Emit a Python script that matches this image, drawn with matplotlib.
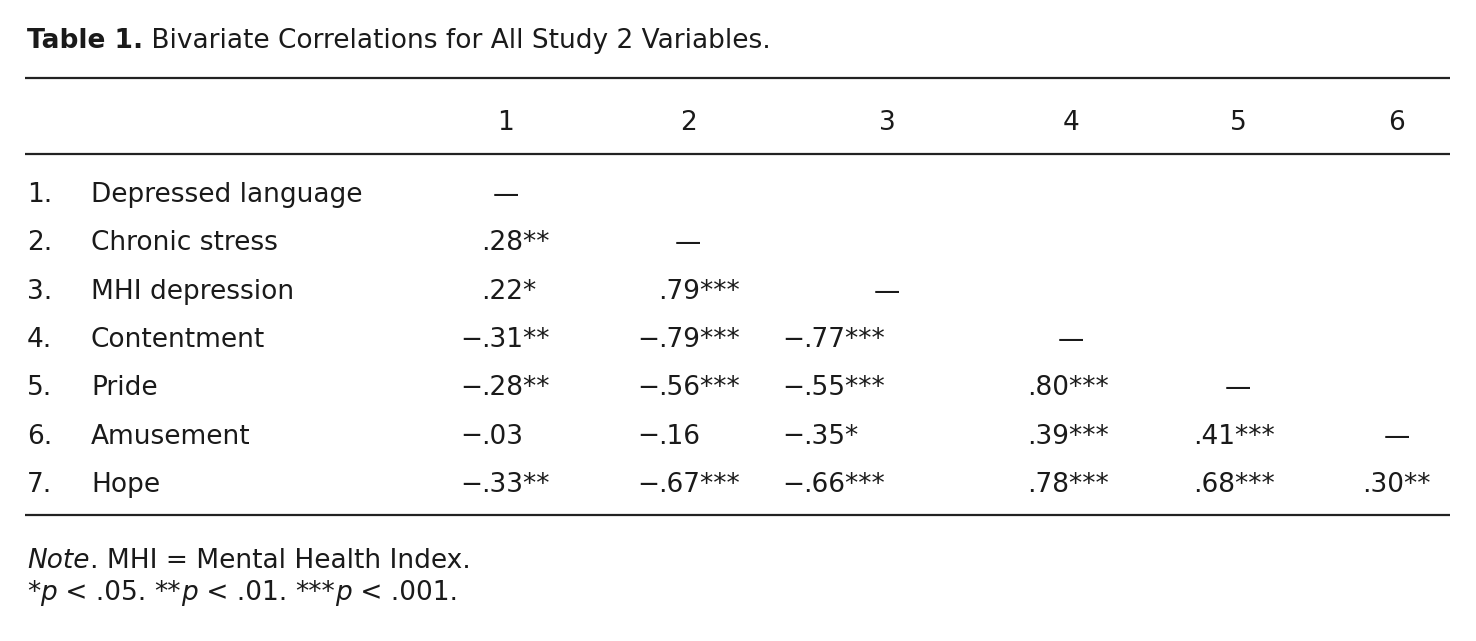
import matplotlib
matplotlib.use("Agg")
import matplotlib.pyplot as plt

plt.rcParams['font.family'] = ['DejaVu Sans']

title_bold = "Table 1."
title_rest = "Bivariate Correlations for All Study 2 Variables."
col_heads = ["1", "2", "3", "4", "5", "6"]
row_nums = ["1.", "2.", "3.", "4.", "5.", "6.", "7."]
row_labels = ["Depressed language", "Chronic stress", "MHI depression",
              "Contentment", "Pride", "Amusement", "Hope"]
# lower triangle, "—" on the diagonal, "" above it
cells = [
    ["—", "", "", "", "", ""],
    [".28**", "—", "", "", "", ""],
    [".22*", ".79***", "—", "", "", ""],
    ["−.31**", "−.79***", "−.77***", "—", "", ""],
    ["−.28**", "−.56***", "−.55***", ".80***", "—", ""],
    ["−.03", "−.16", "−.35*", ".39***", ".41***", "—"],
    ["−.33**", "−.67***", "−.66***", ".78***", ".68***", ".30**"],
]
note_italic = "Note"
note_rest = ". MHI = Mental Health Index."
sig_parts = [("*", "n"), ("p", "i"), (" < .05. ", "n"), ("**", "n"), ("p", "i"),
             (" < .01. ", "n"), ("***", "n"), ("p", "i"), (" < .001.", "n")]

W, H = 1476, 641
fig = plt.figure(figsize=(W / 100, H / 100), dpi=100)
ax = fig.add_axes([0, 0, 1, 1])
ax.set_xlim(0, W)
ax.set_ylim(H, 0)
ax.axis("off")

fs = 19
ink = "#1a1a1a"

# layout (pixels)
x_left, x_right = 25, 1450
rules = [78, 154, 515]
head_cx = [506, 688, 887, 1071, 1238, 1397]
dot_x = [481, 658, 803, 1027, 1193, 1362]
row_y0, row_dy = 202, 48.3


def chain(x, y, parts):
    prev = None
    for s, style in parts:
        kw = dict(fontsize=fs, color=ink, fontstyle="italic" if style == "i" else "normal",
                  fontweight="bold" if style == "b" else "normal")
        if prev is None:
            prev = ax.text(x, y, s, ha="left", va="baseline", **kw)
        else:
            prev = ax.annotate(s, xy=(1, 0), xycoords=prev, ha="left", va="bottom", **kw)
    return prev


t = ax.text(27, 48, title_bold, fontsize=fs, fontweight="bold", color=ink, va="baseline")
ax.annotate(" " + title_rest, xy=(1, 0), xycoords=t, ha="left", va="bottom",
            fontsize=fs, color=ink)

for y in rules:
    ax.plot([x_left, x_right], [y, y], color="#222222", lw=1.6, solid_capstyle="butt")

for cx, h in zip(head_cx, col_heads):
    ax.text(cx, 130, h, ha="center", va="baseline", fontsize=fs, color=ink)

for i, (num, lab) in enumerate(zip(row_nums, row_labels)):
    y = row_y0 + i * row_dy
    ax.text(27, y, num, ha="left", va="baseline", fontsize=fs, color=ink)
    ax.text(91, y, lab, ha="left", va="baseline", fontsize=fs, color=ink)
    for j, val in enumerate(cells[i]):
        if val == "":
            continue
        if val == "—":
            ax.text(head_cx[j], y, val, ha="center", va="baseline", fontsize=fs, color=ink)
        elif val.startswith("−"):
            ax.text(dot_x[j] + 1, y, "−", ha="right", va="baseline", fontsize=fs, color=ink)
            ax.text(dot_x[j], y, val[1:], ha="left", va="baseline", fontsize=fs, color=ink)
        else:
            ax.text(dot_x[j], y, val, ha="left", va="baseline", fontsize=fs, color=ink)

chain(27, 568, [(note_italic, "i"), (note_rest, "n")])
chain(27, 600, sig_parts)

fig.savefig("out.png", dpi=100, facecolor="white")
